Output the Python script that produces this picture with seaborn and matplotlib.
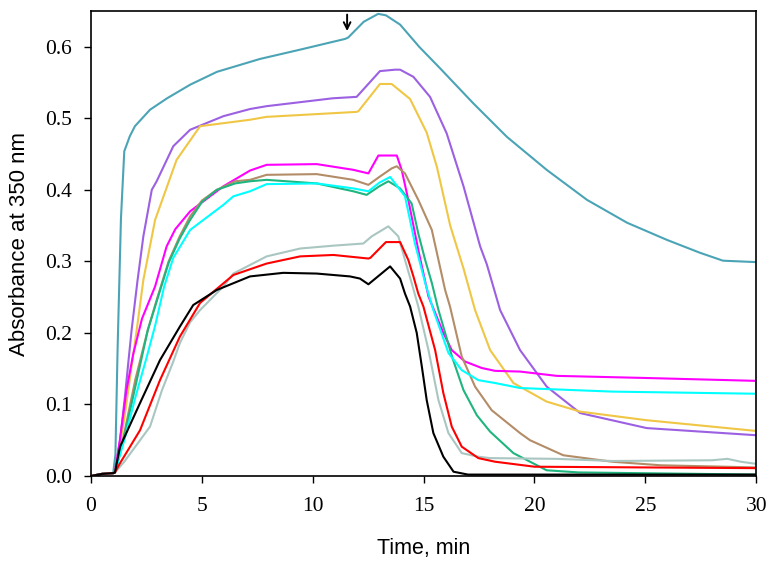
import matplotlib
matplotlib.use("Agg")
import matplotlib.pyplot as plt
import seaborn as sns
import pandas as pd

# ---------------- data ----------------
teal_t = [0, 0.5, 1.0, 1.1, 1.2, 1.35, 1.5, 1.75, 1.98, 2.66, 3.43, 4.47, 5.68, 7.62, 9.43, 11.46, 11.6, 12.3, 12.95, 13.3, 13.94, 14.8, 15.74, 17.24, 18.76, 20.55, 22.37, 24.18, 25.98, 27.47, 28.5, 30]
teal_y = [0, 0.003, 0.004, 0.03, 0.18, 0.36, 0.454, 0.475, 0.489, 0.512, 0.528, 0.547, 0.565, 0.583, 0.596, 0.611, 0.613, 0.635, 0.646, 0.644, 0.631, 0.600, 0.570, 0.521, 0.474, 0.428, 0.386, 0.354, 0.330, 0.312, 0.301, 0.299]

purple_t = [0, 0.5, 1.0, 1.08, 1.31, 1.53, 1.68, 1.83, 2.1, 2.36, 2.74, 2.96, 3.71, 4.47, 5.97, 7.17, 7.92, 10.9, 11.98, 13.03, 13.71, 13.94, 14.54, 15.29, 16.04, 16.8, 17.55, 17.85, 18.45, 19.35, 20.55, 22.06, 25.06, 30]
purple_y = [0, 0.003, 0.004, 0.005, 0.050, 0.111, 0.158, 0.204, 0.274, 0.335, 0.400, 0.412, 0.461, 0.484, 0.503, 0.513, 0.517, 0.528, 0.530, 0.566, 0.568, 0.568, 0.558, 0.530, 0.479, 0.405, 0.321, 0.296, 0.232, 0.176, 0.125, 0.088, 0.067, 0.057]

gold_t = [0, 0.5, 1.0, 1.08, 1.5, 2.06, 2.36, 2.89, 3.86, 4.92, 7.17, 7.9, 11.98, 12.06, 13.03, 13.56, 14.39, 15.14, 15.6, 16.2, 16.8, 17.32, 18.0, 19.05, 20.55, 22.06, 25.06, 30]
gold_y = [0, 0.003, 0.004, 0.005, 0.08, 0.204, 0.274, 0.358, 0.442, 0.489, 0.498, 0.502, 0.509, 0.510, 0.548, 0.548, 0.527, 0.480, 0.432, 0.350, 0.290, 0.232, 0.176, 0.130, 0.104, 0.090, 0.078, 0.063]

magenta_t = [0, 0.5, 1.0, 1.08, 1.3, 1.6, 1.9, 2.3, 2.89, 3.41, 3.8, 4.47, 5.97, 7.17, 7.92, 10.18, 11.83, 12.51, 12.96, 13.79, 14.01, 14.31, 14.76, 15.22, 15.89, 16.27, 16.87, 17.62, 18.22, 19.35, 21.0, 25.06, 30]
magenta_y = [0, 0.003, 0.004, 0.005, 0.05, 0.12, 0.17, 0.22, 0.265, 0.321, 0.345, 0.370, 0.405, 0.427, 0.435, 0.436, 0.428, 0.423, 0.448, 0.448, 0.428, 0.386, 0.316, 0.251, 0.200, 0.176, 0.160, 0.151, 0.147, 0.146, 0.140, 0.137, 0.133]

brown_t = [0, 0.5, 1.0, 1.08, 1.5, 2.0, 2.56, 3.0, 3.5, 4.0, 4.47, 5.0, 5.67, 6.5, 7.17, 7.92, 10.18, 11.83, 12.51, 13.0, 13.56, 13.79, 14.16, 14.76, 15.37, 15.67, 15.97, 16.19, 16.72, 17.32, 18.07, 19.35, 19.8, 21.3, 23.5, 25.7, 30]
brown_y = [0, 0.003, 0.004, 0.005, 0.06, 0.135, 0.204, 0.25, 0.30, 0.335, 0.363, 0.385, 0.400, 0.412, 0.414, 0.421, 0.422, 0.414, 0.407, 0.418, 0.430, 0.433, 0.423, 0.386, 0.344, 0.302, 0.260, 0.237, 0.167, 0.125, 0.092, 0.060, 0.050, 0.029, 0.020, 0.015, 0.012]

green_t = [0, 0.5, 1.0, 1.08, 1.5, 2.0, 2.56, 3.0, 3.5, 4.0, 4.47, 5.0, 5.67, 6.5, 7.17, 7.92, 10.18, 11.83, 12.43, 13.0, 13.41, 13.94, 14.46, 14.76, 15.07, 15.37, 15.67, 16.3, 16.8, 17.4, 18.0, 19.05, 20.55, 22.0, 30]
green_y = [0, 0.003, 0.004, 0.005, 0.055, 0.125, 0.204, 0.248, 0.298, 0.332, 0.358, 0.383, 0.400, 0.409, 0.412, 0.414, 0.409, 0.398, 0.393, 0.405, 0.412, 0.402, 0.381, 0.339, 0.302, 0.270, 0.232, 0.165, 0.120, 0.085, 0.062, 0.032, 0.008, 0.005, 0.002]

cyan_t = [0, 0.5, 1.0, 1.08, 1.5, 2.0, 2.5, 2.89, 3.3, 3.71, 4.47, 5.97, 6.42, 7.17, 7.92, 10.18, 11.83, 12.51, 13.0, 13.49, 14.16, 14.61, 15.07, 15.44, 16.12, 16.72, 17.47, 18.22, 19.35, 23.5, 30]
cyan_y = [0, 0.003, 0.004, 0.005, 0.05, 0.11, 0.165, 0.21, 0.265, 0.305, 0.344, 0.379, 0.391, 0.398, 0.408, 0.409, 0.402, 0.398, 0.410, 0.418, 0.391, 0.325, 0.270, 0.232, 0.172, 0.148, 0.134, 0.130, 0.123, 0.118, 0.115]

grey_t = [0, 0.5, 1.0, 1.08, 1.5, 2.21, 2.66, 3.2, 3.71, 4.01, 4.47, 4.92, 5.97, 6.42, 7.92, 9.43, 10.93, 12.28, 12.66, 13.41, 13.86, 14.16, 14.46, 14.76, 15.22, 15.67, 16.12, 16.72, 17.47, 18.0, 21.0, 23.5, 28.0, 28.7, 29.3, 30]
grey_y = [0, 0.003, 0.004, 0.005, 0.02, 0.05, 0.069, 0.12, 0.16, 0.186, 0.215, 0.232, 0.265, 0.283, 0.307, 0.318, 0.322, 0.325, 0.335, 0.349, 0.335, 0.302, 0.270, 0.237, 0.176, 0.106, 0.060, 0.032, 0.027, 0.025, 0.024, 0.021, 0.022, 0.024, 0.020, 0.017]

red_t = [0, 0.5, 1.0, 1.08, 1.31, 2.21, 3.11, 4.01, 4.92, 6.42, 7.92, 9.43, 10.93, 12.51, 12.6, 13.3, 13.94, 14.31, 14.54, 14.76, 14.99, 15.52, 15.89, 16.27, 16.72, 17.47, 18.22, 20.0, 30]
red_y = [0, 0.003, 0.004, 0.005, 0.018, 0.064, 0.134, 0.195, 0.242, 0.281, 0.297, 0.307, 0.309, 0.304, 0.305, 0.327, 0.327, 0.302, 0.279, 0.255, 0.237, 0.176, 0.116, 0.069, 0.041, 0.025, 0.020, 0.013, 0.011]

black_t = [0, 0.5, 1.0, 1.08, 1.31, 2.21, 3.11, 4.01, 4.61, 5.67, 7.17, 8.67, 10.18, 11.68, 12.13, 12.51, 13.49, 13.94, 14.16, 14.39, 14.69, 14.92, 15.14, 15.44, 15.89, 16.35, 17.0, 30]
black_y = [0, 0.003, 0.004, 0.005, 0.041, 0.102, 0.162, 0.209, 0.239, 0.260, 0.279, 0.284, 0.283, 0.279, 0.276, 0.268, 0.293, 0.276, 0.255, 0.237, 0.200, 0.153, 0.106, 0.060, 0.027, 0.006, 0.002, 0.002]

series_names = ["teal", "purple", "gold", "magenta", "brown", "green", "cyan", "grey", "red", "black"]
series_t = [teal_t, purple_t, gold_t, magenta_t, brown_t, green_t, cyan_t, grey_t, red_t, black_t]
series_y = [teal_y, purple_y, gold_y, magenta_y, brown_y, green_y, cyan_y, grey_y, red_y, black_y]
series_colors = ["#4BA4B6", "#9C60E2", "#F0C645", "#FF00FF", "#B38C68",
                 "#1FB57F", "#00FFFF", "#A9C6C1", "#FF0000", "#000000"]

x_ticks = [0, 5, 10, 15, 20, 25, 30]
y_ticks = [0.0, 0.1, 0.2, 0.3, 0.4, 0.5, 0.6]
x_label = "Time, min"
y_label = "Absorbance at 350 nm"
arrow_t = 11.55
arrow_y_top = 0.645
arrow_y_tip = 0.622

# ---------------- plotting ----------------
sns.set_style("white")
plt.rcParams["font.family"] = ["Liberation Sans", "DejaVu Sans"]
plt.rcParams["text.color"] = "black"
plt.rcParams["axes.labelcolor"] = "black"
plt.rcParams["xtick.color"] = "black"
plt.rcParams["ytick.color"] = "black"

fig = plt.figure(figsize=(7.74, 5.65), dpi=100)
ax = fig.add_axes([0.1176, 0.1575, 0.977 - 0.1176, 0.9805 - 0.1575])

frames = []
for name, t, y in zip(series_names, series_t, series_y):
    frames.append(pd.DataFrame({"t": t, "A": y, "series": name}))
df = pd.concat(frames, ignore_index=True)

sns.lineplot(data=df, x="t", y="A", hue="series", hue_order=series_names,
             palette=dict(zip(series_names, series_colors)), estimator=None,
             sort=False, linewidth=1.5, ax=ax, legend=False)

ax.set_xlim(0, 30)
ax.set_ylim(0, 0.65)
ax.set_xticks(x_ticks)
ax.set_yticks(y_ticks)
ax.set_xticklabels([str(v) for v in x_ticks], family="Liberation Serif", fontsize=15.5)
ax.set_yticklabels([f"{v:.1f}" for v in y_ticks], family="Liberation Serif", fontsize=15.5)
ax.tick_params(axis="both", direction="out", length=5, width=1, color="black",
               labelcolor="black", bottom=True, left=True, top=False, right=False)
ax.tick_params(axis="x", pad=10)
ax.tick_params(axis="y", pad=8.5)

for s in ax.spines.values():
    s.set_visible(True)
    s.set_color("black")
    s.set_linewidth(1.2)

ax.set_xlabel(x_label, fontsize=15.5, labelpad=16, color="black")
ax.set_ylabel(y_label, fontsize=16, labelpad=11, color="black")

ax.annotate("", xy=(arrow_t, arrow_y_tip), xytext=(arrow_t, arrow_y_top),
            arrowprops=dict(arrowstyle="->", color="black", lw=1.4,
                            mutation_scale=12, shrinkA=0, shrinkB=0))

fig.savefig("out.png", dpi=100)
